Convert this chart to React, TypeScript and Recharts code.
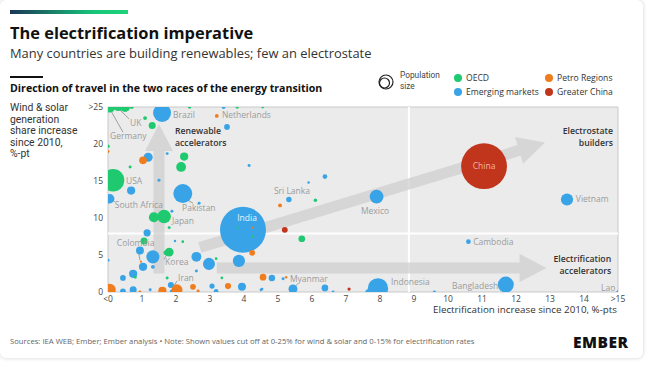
import React from 'react';
import { ScatterChart, Scatter, XAxis, YAxis, ZAxis, ReferenceLine, ReferenceArea } from 'recharts';

// ---------- data ----------
const xTicks = [0, 1, 2, 3, 4, 5, 6, 7, 8, 9, 10, 11, 12, 13, 14, 15];
const yTicks = [0, 5, 10, 15, 20, 25];

type P = { x: number; y: number; z: number };

// x = electrification increase, y = wind & solar share increase, z = population (m)
const emerging: P[] = [
  { x: 3.97, y: 8.4, z: 1420 },
  { x: 7.94, y: 0.5, z: 277 },
  { x: 2.2, y: 13.3, z: 240 },
  { x: 1.59, y: 24.2, z: 216 },
  { x: 11.7, y: 1.0, z: 172 },
  { x: 7.9, y: 12.9, z: 128 },
  { x: 1.32, y: 4.75, z: 115 },
  { x: 13.5, y: 12.5, z: 100 },
  { x: 3.85, y: 4.2, z: 100 },
  { x: 2.97, y: 3.8, z: 97 },
  { x: 2.6, y: 4.75, z: 65 },
  { x: 0.05, y: 12.6, z: 60 },
  { x: 1.18, y: 18.2, z: 55 },
  { x: 5.44, y: 0.4, z: 54 },
  { x: 0.94, y: 5.6, z: 42 },
  { x: 0.68, y: 13.7, z: 45 },
  { x: 1.03, y: 3.4, z: 45 },
  { x: 0.74, y: 2.45, z: 45 },
  { x: 3.94, y: 0.7, z: 43 },
  { x: 1.15, y: 8.0, z: 35 },
  { x: 0.74, y: 0.3, z: 33 },
  { x: 6.38, y: 0.55, z: 30 },
  { x: 4.82, y: 1.9, z: 28 },
  { x: 1.85, y: 0.95, z: 25 },
  { x: 3.5, y: 22.3, z: 22 },
  { x: 5.32, y: 12.5, z: 20 },
  { x: 0.44, y: 1.9, z: 22 },
  { x: 1.9, y: 0.0, z: 22 },
  { x: 0.44, y: 0.1, z: 22 },
  { x: 7.65, y: 0.0, z: 20 },
  { x: 3.06, y: 0.8, z: 18 },
  { x: 3.18, y: 0.1, z: 15 },
  { x: 6.38, y: 15.6, z: 15 },
  { x: 10.6, y: 6.8, z: 15 },
  { x: 1.32, y: 3.4, z: 10 },
  { x: 3.4, y: 25, z: 10 },
  { x: 15, y: 0, z: 8 },
  { x: 1.74, y: 18.7, z: 6 },
  { x: 1.5, y: 15.1, z: 6 },
  { x: 2.68, y: 12.0, z: 6 },
  { x: 1.88, y: 10.9, z: 6 },
  { x: 4.15, y: 17.1, z: 6 },
  { x: 2.6, y: 2.85, z: 6 },
  { x: 1.24, y: 0.3, z: 6 },
  { x: 5.15, y: 1.8, z: 6 },
  { x: 6.62, y: 0, z: 6 },
  { x: 9.6, y: 0, z: 6 },
  { x: 0, y: 4.3, z: 6 },
  { x: 5.9, y: 14.8, z: 4 },
  { x: 1.97, y: 6.9, z: 4 },
  { x: 4.5, y: 0.3, z: 5 },
  { x: 4.53, y: 0.4, z: 5 },
];

const oecd: P[] = [
  { x: 0.15, y: 15.1, z: 335 },
  { x: 1.65, y: 10.2, z: 124 },
  { x: 0.05, y: 25, z: 84 },
  { x: 1.35, y: 10.1, z: 68 },
  { x: 0.5, y: 25, z: 68 },
  { x: 2.15, y: 16.9, z: 65 },
  { x: 1.8, y: 5.4, z: 52 },
  { x: 2.24, y: 18.3, z: 45 },
  { x: 0.3, y: 25, z: 45 },
  { x: 1.3, y: 22.5, z: 33 },
  { x: 1.06, y: 6.9, z: 33 },
  { x: 5.7, y: 7.2, z: 30 },
  { x: 1.7, y: 5.3, z: 15 },
  { x: 1.09, y: 23.5, z: 10 },
  { x: 0.7, y: 25, z: 10 },
  { x: 2.4, y: 25, z: 8 },
  { x: 3.8, y: 25, z: 8 },
  { x: 4.55, y: 25, z: 6 },
  { x: 0.65, y: 16.9, z: 6 },
  { x: 1.8, y: 8.7, z: 6 },
  { x: 2.2, y: 6.8, z: 5 },
  { x: 3.18, y: 4.5, z: 5 },
  { x: 0.8, y: 2.0, z: 6 },
  { x: 1.74, y: 1.9, z: 6 },
  { x: 3.35, y: 1.9, z: 5 },
  { x: 6.1, y: 12.4, z: 8 },
  { x: 3.82, y: 8.7, z: 3 },
  { x: 4.26, y: 7.5, z: 5 },
  { x: 0, y: 19.7, z: 8 },
];

const petro: P[] = [
  { x: 0.05, y: 0.3, z: 100 },
  { x: 2.03, y: 0.3, z: 80 },
  { x: 1.6, y: 0.15, z: 45 },
  { x: 1.03, y: 17.8, z: 40 },
  { x: 4.56, y: 2.0, z: 30 },
  { x: 3.53, y: 0.8, z: 25 },
  { x: 4.24, y: 5.3, z: 22 },
  { x: 2.5, y: 0.7, z: 22 },
  { x: 3.2, y: 23.8, z: 10 },
  { x: 5.06, y: 11.7, z: 10 },
  { x: 0, y: 19.0, z: 6 },
  { x: 2.65, y: 0.15, z: 6 },
  { x: 0.94, y: 0, z: 6 },
  { x: 4.24, y: 8.7, z: 3 },
  { x: 0.97, y: 4.1, z: 3 },
  { x: 5.24, y: 2.0, z: 4 },
];

const greaterChina: P[] = [
  { x: 11.06, y: 17.0, z: 1410 },
  { x: 5.2, y: 8.4, z: 23 },
  { x: 7.09, y: 0.4, z: 7 },
];

// country labels (data coordinates of the text start)
const countryLabels = [
  { x: 1.91, y: 23.9, text: 'Brazil' },
  { x: 3.35, y: 23.9, text: 'Netherlands' },
  { x: 0.65, y: 22.8, text: 'UK' },
  { x: 0.06, y: 21.1, text: 'Germany' },
  { x: 0.53, y: 14.95, text: 'USA' },
  { x: 0.2, y: 11.7, text: 'South Africa' },
  { x: 2.18, y: 11.3, text: 'Pakistan' },
  { x: 1.88, y: 9.6, text: 'Japan' },
  { x: 0.26, y: 6.65, text: 'Colombia' },
  { x: 1.68, y: 4.1, text: 'Korea' },
  { x: 2.06, y: 1.9, text: 'Iran' },
  { x: 4.88, y: 13.6, text: 'Sri Lanka' },
  { x: 7.44, y: 11.0, text: 'Mexico' },
  { x: 5.35, y: 1.77, text: 'Myanmar' },
  { x: 8.32, y: 1.36, text: 'Indonesia' },
  { x: 13.76, y: 12.5, text: 'Vietnam' },
  { x: 10.74, y: 6.8, text: 'Cambodia' },
  { x: 10.12, y: 0.82, text: 'Bangladesh' },
  { x: 14.5, y: 0.54, text: 'Lao' },
];
const insideLabels = [
  { x: 4.09, y: 10.05, text: 'India' },
  { x: 11.06, y: 17.0, text: 'China' },
];

const leaders = [
  { x1: 0.44, y1: 21.6, x2: 0.06, y2: 24.7 },
  { x1: 0.62, y1: 23.4, x2: 0.35, y2: 24.6 },
  { x1: 0.2, y1: 12.2, x2: 0.1, y2: 12.5 },
  { x1: 2.35, y1: 12.4, x2: 2.5, y2: 12.0 },
  { x1: 0.88, y1: 5.9, x2: 0.94, y2: 4.3 },
  { x1: 1.65, y1: 4.4, x2: 1.72, y2: 5.0 },
  { x1: 2.03, y1: 1.5, x2: 1.94, y2: 0.8 },
  { x1: 5.58, y1: 1.1, x2: 5.5, y2: 0.7 },
];

const arrows = [
  { x1: 1.5, y1: 2.5, x2: 1.5, y2: 22.7 },
  { x1: 2.7, y1: 6.0, x2: 12.85, y2: 20.2 },
  { x1: 3.2, y1: 3.26, x2: 12.9, y2: 3.26 },
];

// annotation lines (data coordinates of each line)
const annotationsStart = [
  { x: 1.97, y: 21.75, text: 'Renewable' },
  { x: 1.97, y: 20.15, text: 'accelerators' },
];
const annotationsEnd = [
  { x: 14.85, y: 21.75, text: 'Electrostate' },
  { x: 14.85, y: 20.15, text: 'builders' },
  { x: 14.8, y: 4.5, text: 'Electrification' },
  { x: 14.8, y: 2.9, text: 'accelerators' },
];

const yTitleLines = ['Wind & solar', 'generation', 'share increase', 'since 2010,', '%-pt'];

// ---------- style ----------
const FONT = "'Open Sans', 'Noto Sans', sans-serif";
const C_OECD = '#1ec96f';
const C_EM = '#38a3e6';
const C_PETRO = '#ef7d1d';
const C_CHINA = '#c1351c';

const ArrowShape = (props: any) => {
  const { x1, y1, x2, y2 } = props;
  const dx = x2 - x1;
  const dy = y2 - y1;
  const len = Math.sqrt(dx * dx + dy * dy);
  const ux = dx / len;
  const uy = dy / len;
  const px = -uy;
  const py = ux;
  const sw = 5.5;
  const hw = 14;
  const hl = 27;
  const bx = x2 - ux * hl;
  const by = y2 - uy * hl;
  const pts = [
    [x1 + px * sw, y1 + py * sw],
    [bx + px * sw, by + py * sw],
    [bx + px * hw, by + py * hw],
    [x2, y2],
    [bx - px * hw, by - py * hw],
    [bx - px * sw, by - py * sw],
    [x1 - px * sw, y1 - py * sw],
  ]
    .map((p) => p.join(','))
    .join(' ');
  return <polygon points={pts} fill="#cfcfcf" fillOpacity={0.75} />;
};

const LeaderShape = (props: any) => (
  <line x1={props.x1} y1={props.y1} x2={props.x2} y2={props.y2} stroke="#8a8a8a" strokeWidth={0.8} />
);

const LabelShape = (props: any) => (
  <text x={props.cx} y={props.cy} dy="0.35em" fontSize={8.5} fill="#9b9b9b" fontFamily={FONT}>
    {props.payload.text}
  </text>
);

const InsideLabelShape = (props: any) => (
  <text
    x={props.cx}
    y={props.cy}
    dy="0.35em"
    textAnchor="middle"
    fontSize={8.5}
    fill={props.payload.text === 'China' ? '#f3b3a3' : '#e6f3fc'}
    fontFamily={FONT}
  >
    {props.payload.text}
  </text>
);

const makeAnnotation = (anchor: 'start' | 'end') => (props: any) => (
  <text
    x={props.cx}
    y={props.cy}
    dy="0.35em"
    textAnchor={anchor}
    fontSize={8.7}
    fontWeight={600}
    fill="#333"
    fontFamily={FONT}
  >
    {props.payload.text}
  </text>
);
const AnnotationStart = makeAnnotation('start');
const AnnotationEnd = makeAnnotation('end');

const fmtX = (v: number) => (v === 0 ? '<0' : v === 15 ? '>15' : String(v));
const fmtY = (v: number) => (v === 25 ? '>25' : String(v));

const abs = (left: number, top: number, extra: React.CSSProperties = {}): React.CSSProperties => ({
  position: 'absolute',
  left,
  top,
  whiteSpace: 'nowrap',
  fontFamily: FONT,
  ...extra,
});

const Dot = ({ left, top, color }: { left: number; top: number; color: string }) => (
  <div
    style={{
      position: 'absolute',
      left: left - 4,
      top: top - 4,
      width: 8,
      height: 8,
      borderRadius: 4,
      background: color,
    }}
  />
);

export default function App() {
  return (
    <div style={{ position: 'absolute', left: 0, top: 0, width: 650, height: 367, background: '#fff', overflow: 'hidden' }}>
      <div
        style={{
          position: 'absolute',
          left: 0,
          top: 0,
          width: 643,
          height: 358,
          background: '#fff',
          borderRadius: 6,
          boxShadow: '0 0 4px rgba(0,0,0,0.18)',
        }}
      />
      <div
        style={{
          position: 'absolute',
          left: 10,
          top: 10,
          width: 118,
          height: 3.5,
          background: 'linear-gradient(90deg, #1b3556, #17c57a 70%, #1fd37a)',
        }}
      />
      <div style={abs(10, 21, { fontSize: 16.4, fontWeight: 700, color: '#111' })}>The electrification imperative</div>
      <div style={abs(10, 44, { fontSize: 12.9, color: '#333' })}>Many countries are building renewables; few an electrostate</div>
      <div style={{ position: 'absolute', left: 10, top: 76, width: 33, height: 1.6, background: '#111' }} />
      <div style={abs(10, 81, { fontSize: 10.6, fontWeight: 700, color: '#111' })}>
        Direction of travel in the two races of the energy transition
      </div>

      {/* legend */}
      <svg style={{ position: 'absolute', left: 376, top: 73 }} width={20} height={20}>
        <circle cx={10} cy={9} r={7} fill="none" stroke="#222" strokeWidth={1.2} />
        <circle cx={8.5} cy={10} r={5} fill="none" stroke="#222" strokeWidth={1.2} />
      </svg>
      <div style={abs(400, 70, { fontSize: 8.3, color: '#444', fontFamily: 'Roboto, sans-serif', lineHeight: '10.5px' })}>
        Population
        <br />
        size
      </div>
      <Dot left={458} top={78} color={C_OECD} />
      <div style={abs(466, 72, { fontSize: 8.6, color: '#333' })}>OECD</div>
      <Dot left={458} top={92} color={C_EM} />
      <div style={abs(466, 86, { fontSize: 8.6, color: '#333' })}>Emerging markets</div>
      <Dot left={549} top={78} color={C_PETRO} />
      <div style={abs(557, 72, { fontSize: 8.6, color: '#333' })}>Petro Regions</div>
      <Dot left={549} top={92} color={C_CHINA} />
      <div style={abs(557, 86, { fontSize: 8.6, color: '#333' })}>Greater China</div>

      {/* y axis title */}
      {yTitleLines.map((l, i) => (
        <div
          key={l}
          style={abs(10, 102 + i * 11.6, { fontSize: 10.4, color: '#333', fontFamily: 'Roboto, sans-serif', lineHeight: '11.6px' })}
        >
          {l}
        </div>
      ))}

      <div style={{ position: 'absolute', left: 0, top: 0 }}>
        <ScatterChart width={650} height={367} margin={{ top: 107, right: 32, bottom: 45, left: 68 }}>
          <XAxis
            type="number"
            dataKey="x"
            domain={[0, 15]}
            ticks={xTicks}
            tickFormatter={fmtX}
            allowDataOverflow
            axisLine={false}
            tickLine={false}
            tickSize={1}
            tickMargin={3}
            height={30}
            interval={0}
            tick={{ fontSize: 8.5, fill: '#444', fontFamily: FONT }}
          />
          <YAxis
            type="number"
            dataKey="y"
            domain={[0, 25]}
            ticks={yTicks}
            tickFormatter={fmtY}
            allowDataOverflow
            axisLine={false}
            tickLine={false}
            tickSize={1}
            tickMargin={4}
            width={40}
            interval={0}
            tick={{ fontSize: 8.5, fill: '#444', fontFamily: FONT }}
          />
          <ZAxis type="number" dataKey="z" domain={[0, 1420]} range={[0, 1662]} />
          <ReferenceArea x1={0} x2={15} y1={0} y2={25} fill="#ebebeb" fillOpacity={1} stroke="#c9c9c9" strokeWidth={1} />
          <ReferenceLine x={8.85} stroke="#ffffff" strokeWidth={2} />
          <ReferenceLine y={7.9} stroke="#ffffff" strokeWidth={2} />
          {arrows.map((a, i) => (
            <ReferenceLine
              key={'a' + i}
              segment={[
                { x: a.x1, y: a.y1 },
                { x: a.x2, y: a.y2 },
              ]}
              shape={ArrowShape}
            />
          ))}
          {leaders.map((l, i) => (
            <ReferenceLine
              key={'l' + i}
              segment={[
                { x: l.x1, y: l.y1 },
                { x: l.x2, y: l.y2 },
              ]}
              shape={LeaderShape}
            />
          ))}
          <Scatter data={emerging} fill={C_EM} isAnimationActive={false} />
          <Scatter data={oecd} fill={C_OECD} isAnimationActive={false} />
          <Scatter data={petro} fill={C_PETRO} isAnimationActive={false} />
          <Scatter data={greaterChina} fill={C_CHINA} isAnimationActive={false} />
          <Scatter data={countryLabels} shape={LabelShape} isAnimationActive={false} />
          <Scatter data={insideLabels} shape={InsideLabelShape} isAnimationActive={false} />
          <Scatter data={annotationsStart} shape={AnnotationStart} isAnimationActive={false} />
          <Scatter data={annotationsEnd} shape={AnnotationEnd} isAnimationActive={false} />
        </ScatterChart>
      </div>

      <div style={abs(617, 303, { fontSize: 9.8, color: '#333', transform: 'translateX(-100%)' })}>
        Electrification increase since 2010, %-pts
      </div>

      <div style={abs(10, 336, { fontSize: 7.7, color: '#666' })}>
        Sources: IEA WEB; Ember; Ember analysis • Note: Shown values cut off at 0-25% for wind &amp; solar and 0-15% for
        electrification rates
      </div>
      <div style={abs(573, 331, { fontSize: 15.5, fontWeight: 800, color: '#111', letterSpacing: 0.5 })}>EMBER</div>
    </div>
  );
}
